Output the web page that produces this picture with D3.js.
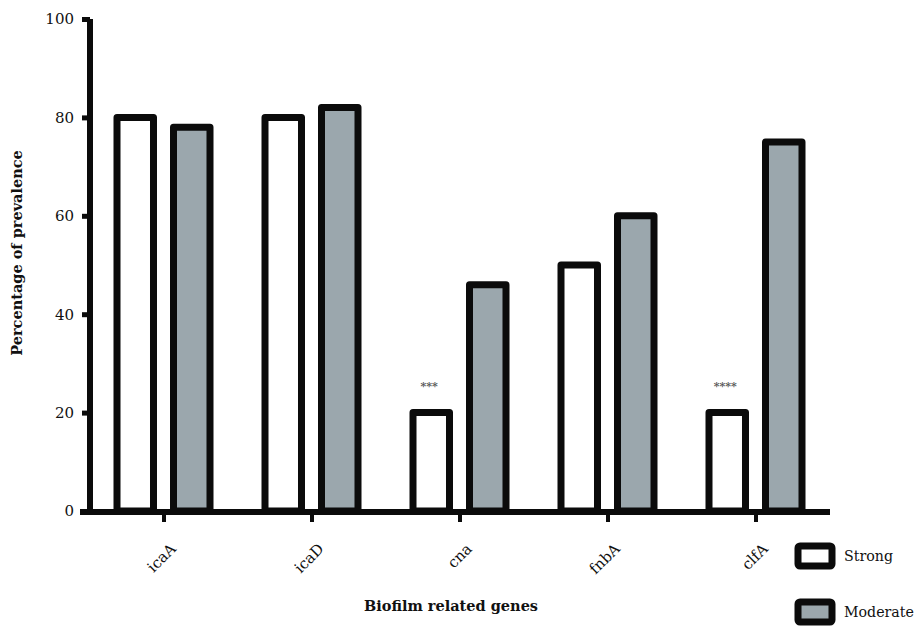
<!DOCTYPE html>
<html>
<head>
<meta charset="utf-8">
<script src="https://cdn.jsdelivr.net/npm/d3@7/dist/d3.min.js"></script>
<style>
  body { margin: 0; background: #fff; overflow: hidden; }
  svg { display: block; font-family: "DejaVu Serif", "Liberation Serif", serif; }
</style>
</head>
<body>
<svg id="chart" width="919" height="626"></svg>
<script>
const genes = ["icaA", "icaD", "cna", "fnbA", "clfA"];
const groups = ["Strong", "Moderate"];
const strongValues = [80, 80, 20, 50, 20];
const moderateValues = [78, 82, 46, 60, 75];
const yTicks = [0, 20, 40, 60, 80, 100];
const marks = [null, null, "***", null, "****"];

const colors = { Strong: "#ffffff", Moderate: "#9ba7ad" };
const ink = "#0b0b0b";

const svg = d3.select("#chart");

const y = d3.scaleLinear().domain([0, 100]).range([511, 19]);
const x0 = d3.scaleBand().domain(genes).range([89, 829]);
const x1 = d3.scaleBand().domain(groups).range([-46, 47]).paddingInner(0.354);

const rows = genes.map((g, i) => ({ gene: g, Strong: strongValues[i], Moderate: moderateValues[i], mark: marks[i] }));

// bars
const g = svg.append("g");
rows.forEach(r => {
    const cx = x0(r.gene) + x0.bandwidth() / 2;
    groups.forEach(k => {
        g.append("rect")
            .attr("x", cx + x1(k))
            .attr("y", y(r[k]))
            .attr("width", x1.bandwidth())
            .attr("height", y(0) - y(r[k]))
            .attr("fill", colors[k])
            .attr("stroke", ink)
            .attr("stroke-width", 7)
            .attr("stroke-linejoin", "round");
    });
    if (r.mark) {
        g.append("text")
            .attr("x", cx + x1("Strong") + x1.bandwidth() / 2 - 2)
            .attr("y", y(r.Strong) - 23)
            .attr("text-anchor", "middle")
            .attr("font-size", 11)
            .attr("font-weight", "bold")
            .attr("fill", "#555")
            .text(r.mark);
    }
});

// y axis
const yAxis = svg.append("g")
    .attr("transform", "translate(90,0)")
    .call(d3.axisLeft(y).tickValues(yTicks).tickSize(8).tickPadding(8));
yAxis.select(".domain").attr("d", `M0,${y(100)}V${y(0) + 4}`).attr("stroke", ink).attr("stroke-width", 6);
yAxis.selectAll(".tick line").attr("stroke", ink).attr("stroke-width", 5);
yAxis.selectAll(".tick text")
    .attr("font-family", "DejaVu Serif")
    .attr("font-size", 15)
    .attr("fill", "#111");

// x axis
const xAxis = svg.append("g")
    .attr("transform", "translate(0,512)")
    .call(d3.axisBottom(x0).tickSize(0));
xAxis.select(".domain").attr("d", "M80,0H830").attr("stroke", ink).attr("stroke-width", 6);
xAxis.selectAll(".tick").append("line")
    .attr("x1", 1).attr("x2", 1).attr("y1", 0).attr("y2", 10)
    .attr("stroke", ink).attr("stroke-width", 4);
xAxis.selectAll(".tick text")
    .attr("font-family", "DejaVu Serif")
    .attr("font-size", 15)
    .attr("fill", "#111")
    .attr("text-anchor", "end")
    .attr("transform", "translate(8,32) rotate(-45)")
    .attr("dy", "0.35em");

// axis titles
svg.append("text")
    .attr("transform", "translate(22,253) rotate(-90)")
    .attr("text-anchor", "middle")
    .attr("font-size", 14.5)
    .attr("font-weight", "bold")
    .attr("fill", "#111")
    .text("Percentage of prevalence");

svg.append("text")
    .attr("x", 451)
    .attr("y", 611)
    .attr("text-anchor", "middle")
    .attr("font-size", 14.5)
    .attr("font-weight", "bold")
    .attr("fill", "#111")
    .text("Biofilm related genes");

// legend
const legend = svg.append("g");
groups.forEach((k, i) => {
    const ly = 546 + i * 56;
    legend.append("rect")
        .attr("x", 798).attr("y", ly)
        .attr("width", 34).attr("height", 20)
        .attr("rx", 2)
        .attr("fill", colors[k])
        .attr("stroke", ink)
        .attr("stroke-width", 7);
    legend.append("text")
        .attr("x", 844).attr("y", ly + 10)
        .attr("dy", "0.35em")
        .attr("font-size", 14.2)
        .attr("fill", "#111")
        .text(k);
});
</script>
</body>
</html>
